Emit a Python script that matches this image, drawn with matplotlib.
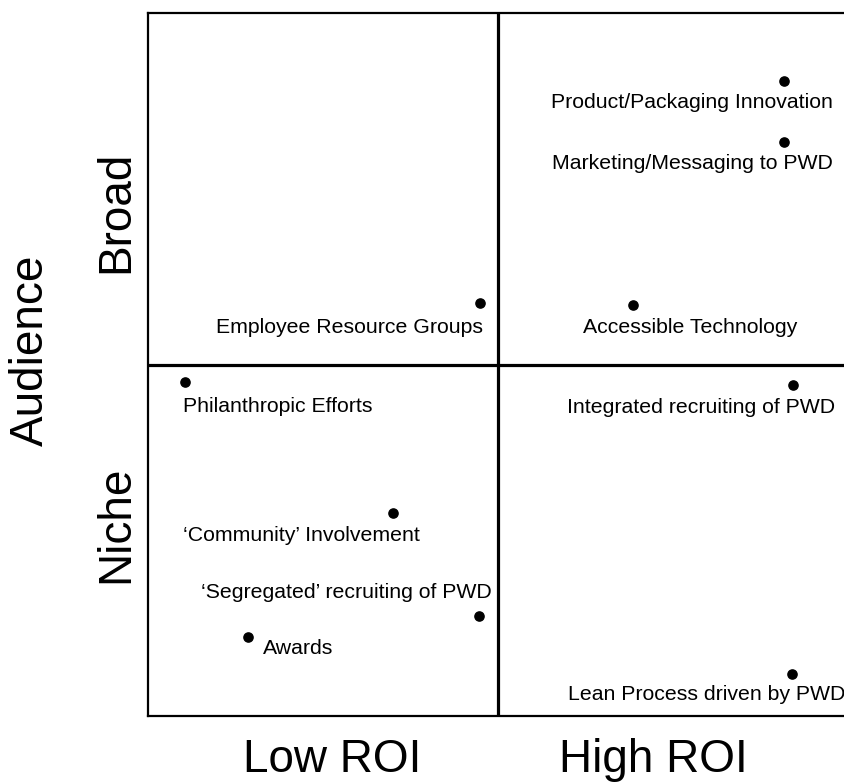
import matplotlib
matplotlib.use("Agg")
import matplotlib.pyplot as plt

plt.rcParams['font.family'] = ['Liberation Sans', 'DejaVu Sans']

# ---- data ----
initiatives = [
    "Product/Packaging Innovation",
    "Marketing/Messaging to PWD",
    "Accessible Technology",
    "Employee Resource Groups",
    "Philanthropic Efforts",
    "Integrated recruiting of PWD",
    "\u2018Community\u2019 Involvement",
    "\u2018Segregated\u2019 recruiting of PWD",
    "Awards",
    "Lean Process driven by PWD",
]
roi = [1.817, 1.817, 1.386, 0.949, 0.106, 1.843, 0.700, 0.946, 0.286, 1.840]
audience = [1.807, 1.633, 1.169, 1.175, 0.950, 0.942, 0.578, 0.284, 0.225, 0.119]

x_labels = ["Low ROI", "High ROI"]
y_labels = ["Niche", "Broad"]
axis_title = "Audience"

# ---- label layout (offset pixels from point, horizontal alignment) ----
label_layout = [
    (49, -27, 'right'),
    (49, -27, 'right'),
    (-50, -28, 'left'),
    (3, -30, 'right'),
    (-2, -30, 'left'),
    (42, -28, 'right'),
    (27, -28, 'right'),
    (13, 18, 'right'),
    (15, -17, 'left'),
    (-224, -26, 'left'),
]

W, H = 844, 782
fig = plt.figure(figsize=(W / 100, H / 100), dpi=100)
ax = fig.add_axes([148 / W, 1 - 716 / H, 700 / W, 703 / H])
ax.set_xlim(0, 2)
ax.set_ylim(0, 2)
ax.set_xticks([])
ax.set_yticks([])
for s in ax.spines.values():
    s.set_linewidth(1.6)
    s.set_color('black')
ax.axvline(1, color='black', lw=2.3)
ax.axhline(1, color='black', lw=2.3)

ax.scatter(roi, audience, s=44, color='black', zorder=3, clip_on=False)
for name, xv, yv, (dx, dy, ha) in zip(initiatives, roi, audience, label_layout):
    ax.annotate(name, (xv, yv), xytext=(dx, dy), textcoords='offset pixels',
                ha=ha, va='baseline', fontsize=15.3, color='black',
                annotation_clip=False)

big = 33
fig.text(332 / W, 1 - 772 / H, x_labels[0], ha='center', va='baseline', fontsize=big)
fig.text(653 / W, 1 - 772 / H, x_labels[1], ha='center', va='baseline', fontsize=big)
fig.text(43 / W, 1 - 350 / H, axis_title, rotation=90, rotation_mode='anchor',
         ha='center', va='baseline', fontsize=big)
fig.text(128 / W, 1 - 212 / H, y_labels[1], rotation=90, rotation_mode='anchor',
         ha='center', va='baseline', fontsize=big)
fig.text(128 / W, 1 - 524 / H, y_labels[0], rotation=90, rotation_mode='anchor',
         ha='center', va='baseline', fontsize=big)

fig.savefig('out.png', dpi=100)
